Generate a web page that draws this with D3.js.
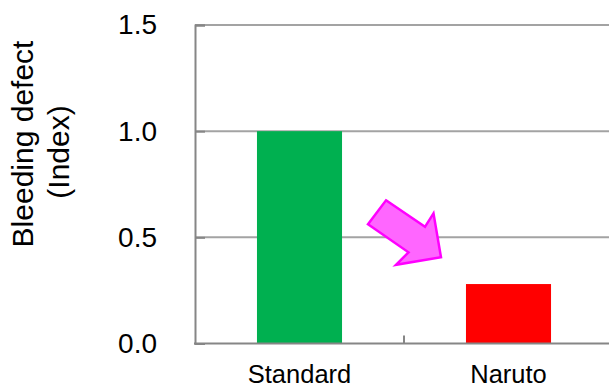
<!DOCTYPE html>
<html>
<head>
<meta charset="utf-8">
<script src="https://cdn.jsdelivr.net/npm/d3@7"></script>
<style>
  html, body { margin: 0; padding: 0; background: #fff; }
  svg { display: block; }
</style>
</head>
<body>
<svg id="chart" width="609" height="388"></svg>
<script>
// Chart data
const categories = ["Standard", "Naruto"];
const values = [1.0, 0.28];
const barColors = ["#00B050", "#FF0000"];
const yTicks = [0, 0.5, 1.0, 1.5];
const yTitleLines = ["Bleeding defect", "(Index)"];

const W = 609, H = 388;
const plot = { left: 195, top: 25, right: 613, bottom: 343.5 };
const axisColor = "#868686";
const gridColor = "#a3a3a3";
const font = "'Liberation Sans', Arial, sans-serif";

const svg = d3.select("#chart");

const x = d3.scaleBand()
  .domain(categories)
  .range([plot.left, plot.right])
  .paddingInner(0.593)
  .paddingOuter(0.2965);

const y = d3.scaleLinear()
  .domain([0, 1.5])
  .range([plot.bottom, plot.top]);

// Horizontal gridlines
svg.append("g")
  .selectAll("line")
  .data(yTicks.filter(d => d > 0))
  .join("line")
  .attr("x1", plot.left)
  .attr("x2", W + 5)
  .attr("y1", d => y(d))
  .attr("y2", d => y(d))
  .attr("stroke", gridColor)
  .attr("stroke-width", 2);

// Bars
svg.append("g")
  .selectAll("rect")
  .data(categories.map((c, i) => ({ c, v: values[i], color: barColors[i] })))
  .join("rect")
  .attr("x", d => x(d.c))
  .attr("width", x.bandwidth())
  .attr("y", d => y(d.v))
  .attr("height", d => y(0) - y(d.v))
  .attr("fill", d => d.color);

// Left axis: inward ticks plus value labels
const yAxis = svg.append("g")
  .attr("transform", `translate(${plot.left},0)`)
  .call(d3.axisLeft(y).tickValues(yTicks).tickFormat(d3.format(".1f")).tickSize(-10).tickPadding(38));
yAxis.select(".domain").attr("stroke", axisColor).attr("stroke-width", 2);
yAxis.selectAll(".tick line").attr("stroke", axisColor).attr("stroke-width", 2);
yAxis.selectAll(".tick text")
  .attr("fill", "#000")
  .style("font-family", font)
  .style("font-size", "28px");

// Bottom axis: category labels and a divider tick between categories
const xAxis = svg.append("g")
  .attr("transform", `translate(0,${plot.bottom})`)
  .call(d3.axisBottom(x).tickSize(0).tickPadding(0));
xAxis.select(".domain").remove();
xAxis.append("line")
  .attr("x1", plot.left - 1)
  .attr("x2", W + 5)
  .attr("stroke", axisColor)
  .attr("stroke-width", 2);
const divider = (x(categories[0]) + x.bandwidth() + x(categories[1])) / 2;
xAxis.append("line")
  .attr("x1", divider).attr("x2", divider)
  .attr("y1", 0).attr("y2", -8)
  .attr("stroke", axisColor)
  .attr("stroke-width", 2);
xAxis.selectAll(".tick text")
  .attr("y", 39)
  .attr("dy", 0)
  .attr("fill", "#000")
  .style("font-family", font)
  .style("font-size", "25.5px");

// Y-axis title (two rotated lines)
const titlePos = [{ bx: 33, cy: 144 }, { bx: 69, cy: 152 }];
svg.append("g")
  .selectAll("text")
  .data(yTitleLines)
  .join("text")
  .attr("transform", (d, i) => `translate(${titlePos[i].bx},${titlePos[i].cy}) rotate(-90)`)
  .attr("text-anchor", "middle")
  .style("font-family", font)
  .style("font-size", "30px")
  .attr("fill", "#000")
  .text(d => d);

// Downward arrow between the two bars
const arrowShape = [[-18, -37], [21, -10.5], [29.5, -24], [37, 20], [-8, 27.5], [4.5, 15], [-36, -13]];
svg.append("polygon")
  .attr("transform", `translate(${divider},${y(0.5)})`)
  .attr("points", arrowShape.map(p => p.join(",")).join(" "))
  .attr("fill", "#FF66FF")
  .attr("stroke", "#FF00FF")
  .attr("stroke-width", 2.5)
  .attr("stroke-linejoin", "miter");
</script>
</body>
</html>
